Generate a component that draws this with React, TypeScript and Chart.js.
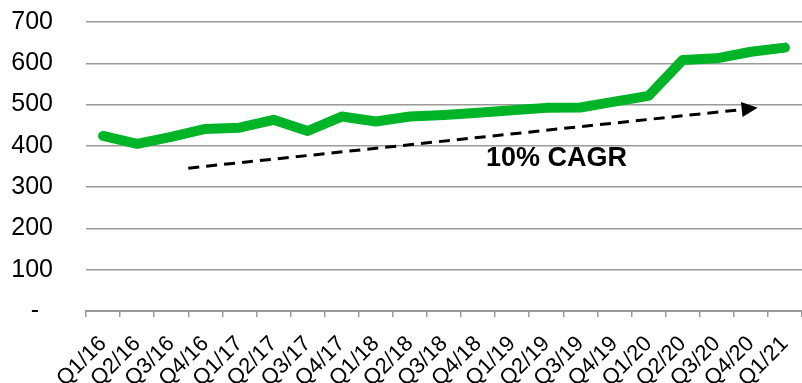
import React, { useEffect, useRef } from "react";
import { Chart, registerables } from "chart.js";

Chart.register(...registerables);

// Quarterly values
const quarters = [
  "Q1/16", "Q2/16", "Q3/16", "Q4/16",
  "Q1/17", "Q2/17", "Q3/17", "Q4/17",
  "Q1/18", "Q2/18", "Q3/18", "Q4/18",
  "Q1/19", "Q2/19", "Q3/19", "Q4/19",
  "Q1/20", "Q2/20", "Q3/20", "Q4/20",
  "Q1/21",
];
const values = [
  424, 405, 422, 441,
  444, 463, 436, 471,
  459, 471, 475, 480,
  486, 492, 493, 507,
  521, 608, 612, 628,
  638,
];

// Trend arrow (category index, value) and its caption
const trendStart = [2.5, 346];
const trendEnd = [19.2, 492];
const trendLabel = "10% CAGR";
const trendLabelAt = [13.3, 369];

const FONT = "'Liberation Sans', Arial, Helvetica, sans-serif";

const trendPlugin = {
  id: "trendArrow",
  afterDatasetsDraw(chart: any) {
    const { ctx, scales } = chart;
    const x = scales.x;
    const y = scales.y;
    const x1 = x.getPixelForValue(trendStart[0]);
    const y1 = y.getPixelForValue(trendStart[1]);
    const x2 = x.getPixelForValue(trendEnd[0]);
    const y2 = y.getPixelForValue(trendEnd[1]);
    const ang = Math.atan2(y2 - y1, x2 - x1);
    const headLen = 16;
    const headHalf = 7.5;
    const bx = x2 - headLen * Math.cos(ang);
    const by = y2 - headLen * Math.sin(ang);

    ctx.save();
    ctx.strokeStyle = "#000";
    ctx.lineWidth = 3;
    ctx.setLineDash([11, 7]);
    ctx.beginPath();
    ctx.moveTo(x1, y1);
    ctx.lineTo(bx, by);
    ctx.stroke();
    ctx.setLineDash([]);

    ctx.fillStyle = "#000";
    ctx.beginPath();
    ctx.moveTo(x2, y2);
    ctx.lineTo(bx + headHalf * Math.sin(ang), by - headHalf * Math.cos(ang));
    ctx.lineTo(bx - headHalf * Math.sin(ang), by + headHalf * Math.cos(ang));
    ctx.closePath();
    ctx.fill();

    ctx.font = `bold 27px ${FONT}`;
    ctx.textAlign = "center";
    ctx.textBaseline = "middle";
    ctx.fillText(
      trendLabel,
      x.getPixelForValue(trendLabelAt[0]),
      y.getPixelForValue(trendLabelAt[1])
    );
    ctx.restore();
  },
};

export default function App() {
  const canvasRef = useRef<HTMLCanvasElement | null>(null);

  useEffect(() => {
    const canvas = canvasRef.current;
    if (!canvas) return;
    const chart = new Chart(canvas, {
      type: "line",
      data: {
        labels: quarters,
        datasets: [
          {
            data: values,
            borderColor: "#00B427",
            borderWidth: 10,
            borderCapStyle: "round",
            borderJoinStyle: "round",
            pointRadius: 0,
            pointHoverRadius: 0,
            fill: false,
            tension: 0,
          },
        ],
      },
      options: {
        animation: false,
        responsive: false,
        devicePixelRatio: 1,
        layout: { padding: { top: 22, left: 0, right: 0, bottom: 0 } },
        plugins: {
          legend: { display: false },
          tooltip: { enabled: false },
        },
        scales: {
          x: {
            type: "category",
            offset: true,
            grid: {
              offset: true,
              drawOnChartArea: false,
              drawTicks: true,
              tickLength: 6,
              color: "#9a9a9a",
              lineWidth: 1.5,
            },
            border: { display: true, color: "#9a9a9a", width: 2 },
            ticks: {
              autoSkip: false,
              maxRotation: 45,
              minRotation: 45,
              padding: 14,
              color: "#000",
              font: { family: FONT, size: 22 },
            },
            afterFit(scale: any) {
              scale.height = 72;
              scale.paddingLeft = 0;
              scale.paddingRight = 0;
            },
          },
          y: {
            min: 0,
            max: 700,
            grid: {
              drawTicks: false,
              color: "#9a9a9a",
              lineWidth: 1.5,
            },
            border: { display: false },
            ticks: {
              stepSize: 100,
              padding: 33,
              color: "#000",
              font: { family: FONT, size: 25 },
              callback: (v: any) => (Number(v) === 0 ? "-  " : String(v)),
            },
            afterFit(scale: any) {
              scale.width = 86;
              scale.paddingTop = 0;
              scale.paddingBottom = 0;
            },
          },
        },
      },
      plugins: [trendPlugin],
    });
    return () => chart.destroy();
  }, []);

  return (
    <div style={{ position: "fixed", left: 0, top: 0, width: 802, height: 383, background: "#fff" }}>
      <canvas ref={canvasRef} width={802} height={383} />
    </div>
  );
}
